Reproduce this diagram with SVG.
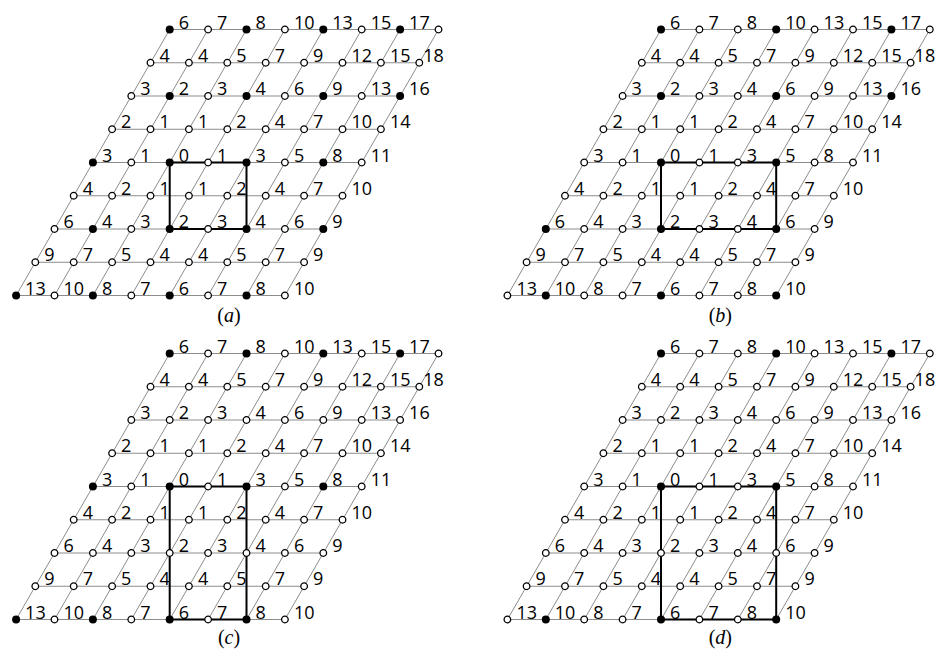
<svg xmlns="http://www.w3.org/2000/svg" xmlns:xlink="http://www.w3.org/1999/xlink" width="936" height="651" viewBox="0 0 936 651">
<style>
.grid{fill:none;stroke:#8c8c8c;stroke-width:1}
.box{fill:none;stroke:#000;stroke-width:2}
.k{fill:#000}
.o{fill:#fff;stroke:#000;stroke-width:1.3}
text{font-family:"Open Sans","Noto Sans","DejaVu Sans",sans-serif;font-size:18px;fill:#000}
.cap{font-family:"Liberation Serif","Times New Roman",serif;font-size:20px;text-anchor:middle;fill:#000}
</style>
<defs>
<path id="lattice" class="grid" d="M169.7 29.5H438.5M150.5 62.75H419.3M131.3 96H400.1M112.1 129.25H380.9M92.9 162.5H361.7M73.7 195.75H342.5M54.5 229H323.3M35.3 262.25H304.1M16.1 295.5H284.9M169.7 29.5L16.1 295.5M208.1 29.5L54.5 295.5M246.5 29.5L92.9 295.5M284.9 29.5L131.3 295.5M323.3 29.5L169.7 295.5M361.7 29.5L208.1 295.5M400.1 29.5L246.5 295.5M438.5 29.5L284.9 295.5"/>
</defs>

<!-- connectors -->
<g id="connectors">
<use xlink:href="#lattice" href="#lattice"/>
<use xlink:href="#lattice" href="#lattice" transform="translate(491.3,0)"/>
<use xlink:href="#lattice" href="#lattice" transform="translate(0,324)"/>
<use xlink:href="#lattice" href="#lattice" transform="translate(491.3,324)"/>
<path class="box" d="M169.7 162.5H246.5V229H169.7Z"/>
<path class="box" transform="translate(491.3,0)" d="M169.7 162.5H284.9V229H169.7Z"/>
<path class="box" transform="translate(0,324)" d="M169.7 162.5H246.5V295.5H169.7Z"/>
<path class="box" transform="translate(491.3,324)" d="M169.7 162.5H284.9V295.5H169.7Z"/>
</g>

<!-- panel a -->
<g id="panel-a">
<g id="a-r0c0" transform="translate(169.7,29.5)"><circle class="k" r="4"/><text x="9" y="-1">6</text></g>
<g id="a-r0c1" transform="translate(208.1,29.5)"><circle class="o" r="3.3"/><text x="9" y="-1">7</text></g>
<g id="a-r0c2" transform="translate(246.5,29.5)"><circle class="k" r="4"/><text x="9" y="-1">8</text></g>
<g id="a-r0c3" transform="translate(284.9,29.5)"><circle class="o" r="3.3"/><text x="9" y="-1">10</text></g>
<g id="a-r0c4" transform="translate(323.3,29.5)"><circle class="k" r="4"/><text x="9" y="-1">13</text></g>
<g id="a-r0c5" transform="translate(361.7,29.5)"><circle class="o" r="3.3"/><text x="9" y="-1">15</text></g>
<g id="a-r0c6" transform="translate(400.1,29.5)"><circle class="k" r="4"/><text x="9" y="-1">17</text></g>
<g id="a-r0c7" transform="translate(438.5,29.5)"><circle class="o" r="3.3"/></g>
<g id="a-r1c0" transform="translate(150.5,62.75)"><circle class="o" r="3.3"/><text x="9" y="-1">4</text></g>
<g id="a-r1c1" transform="translate(188.9,62.75)"><circle class="o" r="3.3"/><text x="9" y="-1">4</text></g>
<g id="a-r1c2" transform="translate(227.3,62.75)"><circle class="o" r="3.3"/><text x="9" y="-1">5</text></g>
<g id="a-r1c3" transform="translate(265.7,62.75)"><circle class="o" r="3.3"/><text x="9" y="-1">7</text></g>
<g id="a-r1c4" transform="translate(304.1,62.75)"><circle class="o" r="3.3"/><text x="9" y="-1">9</text></g>
<g id="a-r1c5" transform="translate(342.5,62.75)"><circle class="o" r="3.3"/><text x="9" y="-1">12</text></g>
<g id="a-r1c6" transform="translate(380.9,62.75)"><circle class="o" r="3.3"/><text x="9" y="-1">15</text></g>
<g id="a-r1c7" transform="translate(419.3,62.75)"><circle class="o" r="3.3"/><text x="4" y="-1">18</text></g>
<g id="a-r2c0" transform="translate(131.3,96)"><circle class="o" r="3.3"/><text x="9" y="-1">3</text></g>
<g id="a-r2c1" transform="translate(169.7,96)"><circle class="k" r="4"/><text x="9" y="-1">2</text></g>
<g id="a-r2c2" transform="translate(208.1,96)"><circle class="o" r="3.3"/><text x="9" y="-1">3</text></g>
<g id="a-r2c3" transform="translate(246.5,96)"><circle class="k" r="4"/><text x="9" y="-1">4</text></g>
<g id="a-r2c4" transform="translate(284.9,96)"><circle class="o" r="3.3"/><text x="9" y="-1">6</text></g>
<g id="a-r2c5" transform="translate(323.3,96)"><circle class="k" r="4"/><text x="9" y="-1">9</text></g>
<g id="a-r2c6" transform="translate(361.7,96)"><circle class="o" r="3.3"/><text x="9" y="-1">13</text></g>
<g id="a-r2c7" transform="translate(400.1,96)"><circle class="k" r="4"/><text x="9" y="-1">16</text></g>
<g id="a-r3c0" transform="translate(112.1,129.25)"><circle class="o" r="3.3"/><text x="9" y="-1">2</text></g>
<g id="a-r3c1" transform="translate(150.5,129.25)"><circle class="o" r="3.3"/><text x="9" y="-1">1</text></g>
<g id="a-r3c2" transform="translate(188.9,129.25)"><circle class="o" r="3.3"/><text x="9" y="-1">1</text></g>
<g id="a-r3c3" transform="translate(227.3,129.25)"><circle class="o" r="3.3"/><text x="9" y="-1">2</text></g>
<g id="a-r3c4" transform="translate(265.7,129.25)"><circle class="o" r="3.3"/><text x="9" y="-1">4</text></g>
<g id="a-r3c5" transform="translate(304.1,129.25)"><circle class="o" r="3.3"/><text x="9" y="-1">7</text></g>
<g id="a-r3c6" transform="translate(342.5,129.25)"><circle class="o" r="3.3"/><text x="9" y="-1">10</text></g>
<g id="a-r3c7" transform="translate(380.9,129.25)"><circle class="o" r="3.3"/><text x="9" y="-1">14</text></g>
<g id="a-r4c0" transform="translate(92.9,162.5)"><circle class="k" r="4"/><text x="9" y="-1">3</text></g>
<g id="a-r4c1" transform="translate(131.3,162.5)"><circle class="o" r="3.3"/><text x="9" y="-1">1</text></g>
<g id="a-r4c2" transform="translate(169.7,162.5)"><circle class="k" r="4"/><text x="9" y="-1">0</text></g>
<g id="a-r4c3" transform="translate(208.1,162.5)"><circle class="o" r="3.3"/><text x="9" y="-1">1</text></g>
<g id="a-r4c4" transform="translate(246.5,162.5)"><circle class="k" r="4"/><text x="9" y="-1">3</text></g>
<g id="a-r4c5" transform="translate(284.9,162.5)"><circle class="o" r="3.3"/><text x="9" y="-1">5</text></g>
<g id="a-r4c6" transform="translate(323.3,162.5)"><circle class="k" r="4"/><text x="9" y="-1">8</text></g>
<g id="a-r4c7" transform="translate(361.7,162.5)"><circle class="o" r="3.3"/><text x="9" y="-1">11</text></g>
<g id="a-r5c0" transform="translate(73.7,195.75)"><circle class="o" r="3.3"/><text x="9" y="-1">4</text></g>
<g id="a-r5c1" transform="translate(112.1,195.75)"><circle class="o" r="3.3"/><text x="9" y="-1">2</text></g>
<g id="a-r5c2" transform="translate(150.5,195.75)"><circle class="o" r="3.3"/><text x="9" y="-1">1</text></g>
<g id="a-r5c3" transform="translate(188.9,195.75)"><circle class="o" r="3.3"/><text x="9" y="-1">1</text></g>
<g id="a-r5c4" transform="translate(227.3,195.75)"><circle class="o" r="3.3"/><text x="9" y="-1">2</text></g>
<g id="a-r5c5" transform="translate(265.7,195.75)"><circle class="o" r="3.3"/><text x="9" y="-1">4</text></g>
<g id="a-r5c6" transform="translate(304.1,195.75)"><circle class="o" r="3.3"/><text x="9" y="-1">7</text></g>
<g id="a-r5c7" transform="translate(342.5,195.75)"><circle class="o" r="3.3"/><text x="9" y="-1">10</text></g>
<g id="a-r6c0" transform="translate(54.5,229)"><circle class="o" r="3.3"/><text x="9" y="-1">6</text></g>
<g id="a-r6c1" transform="translate(92.9,229)"><circle class="k" r="4"/><text x="9" y="-1">4</text></g>
<g id="a-r6c2" transform="translate(131.3,229)"><circle class="o" r="3.3"/><text x="9" y="-1">3</text></g>
<g id="a-r6c3" transform="translate(169.7,229)"><circle class="k" r="4"/><text x="9" y="-1">2</text></g>
<g id="a-r6c4" transform="translate(208.1,229)"><circle class="o" r="3.3"/><text x="9" y="-1">3</text></g>
<g id="a-r6c5" transform="translate(246.5,229)"><circle class="k" r="4"/><text x="9" y="-1">4</text></g>
<g id="a-r6c6" transform="translate(284.9,229)"><circle class="o" r="3.3"/><text x="9" y="-1">6</text></g>
<g id="a-r6c7" transform="translate(323.3,229)"><circle class="k" r="4"/><text x="9" y="-1">9</text></g>
<g id="a-r7c0" transform="translate(35.3,262.25)"><circle class="o" r="3.3"/><text x="9" y="-1">9</text></g>
<g id="a-r7c1" transform="translate(73.7,262.25)"><circle class="o" r="3.3"/><text x="9" y="-1">7</text></g>
<g id="a-r7c2" transform="translate(112.1,262.25)"><circle class="o" r="3.3"/><text x="9" y="-1">5</text></g>
<g id="a-r7c3" transform="translate(150.5,262.25)"><circle class="o" r="3.3"/><text x="9" y="-1">4</text></g>
<g id="a-r7c4" transform="translate(188.9,262.25)"><circle class="o" r="3.3"/><text x="9" y="-1">4</text></g>
<g id="a-r7c5" transform="translate(227.3,262.25)"><circle class="o" r="3.3"/><text x="9" y="-1">5</text></g>
<g id="a-r7c6" transform="translate(265.7,262.25)"><circle class="o" r="3.3"/><text x="9" y="-1">7</text></g>
<g id="a-r7c7" transform="translate(304.1,262.25)"><circle class="o" r="3.3"/><text x="9" y="-1">9</text></g>
<g id="a-r8c0" transform="translate(16.1,295.5)"><circle class="k" r="4"/><text x="9" y="-1">13</text></g>
<g id="a-r8c1" transform="translate(54.5,295.5)"><circle class="o" r="3.3"/><text x="9" y="-1">10</text></g>
<g id="a-r8c2" transform="translate(92.9,295.5)"><circle class="k" r="4"/><text x="9" y="-1">8</text></g>
<g id="a-r8c3" transform="translate(131.3,295.5)"><circle class="o" r="3.3"/><text x="9" y="-1">7</text></g>
<g id="a-r8c4" transform="translate(169.7,295.5)"><circle class="k" r="4"/><text x="9" y="-1">6</text></g>
<g id="a-r8c5" transform="translate(208.1,295.5)"><circle class="o" r="3.3"/><text x="9" y="-1">7</text></g>
<g id="a-r8c6" transform="translate(246.5,295.5)"><circle class="k" r="4"/><text x="9" y="-1">8</text></g>
<g id="a-r8c7" transform="translate(284.9,295.5)"><circle class="o" r="3.3"/><text x="9" y="-1">10</text></g>
<text class="cap" x="229" y="322">(<tspan font-style="italic">a</tspan>)</text>
</g>

<!-- panel b -->
<g id="panel-b" transform="translate(491.3,0)">
<g id="b-r0c0" transform="translate(169.7,29.5)"><circle class="k" r="4"/><text x="9" y="-1">6</text></g>
<g id="b-r0c1" transform="translate(208.1,29.5)"><circle class="o" r="3.3"/><text x="9" y="-1">7</text></g>
<g id="b-r0c2" transform="translate(246.5,29.5)"><circle class="o" r="3.3"/><text x="9" y="-1">8</text></g>
<g id="b-r0c3" transform="translate(284.9,29.5)"><circle class="k" r="4"/><text x="9" y="-1">10</text></g>
<g id="b-r0c4" transform="translate(323.3,29.5)"><circle class="o" r="3.3"/><text x="9" y="-1">13</text></g>
<g id="b-r0c5" transform="translate(361.7,29.5)"><circle class="o" r="3.3"/><text x="9" y="-1">15</text></g>
<g id="b-r0c6" transform="translate(400.1,29.5)"><circle class="k" r="4"/><text x="9" y="-1">17</text></g>
<g id="b-r0c7" transform="translate(438.5,29.5)"><circle class="o" r="3.3"/></g>
<g id="b-r1c0" transform="translate(150.5,62.75)"><circle class="o" r="3.3"/><text x="9" y="-1">4</text></g>
<g id="b-r1c1" transform="translate(188.9,62.75)"><circle class="o" r="3.3"/><text x="9" y="-1">4</text></g>
<g id="b-r1c2" transform="translate(227.3,62.75)"><circle class="o" r="3.3"/><text x="9" y="-1">5</text></g>
<g id="b-r1c3" transform="translate(265.7,62.75)"><circle class="o" r="3.3"/><text x="9" y="-1">7</text></g>
<g id="b-r1c4" transform="translate(304.1,62.75)"><circle class="o" r="3.3"/><text x="9" y="-1">9</text></g>
<g id="b-r1c5" transform="translate(342.5,62.75)"><circle class="o" r="3.3"/><text x="9" y="-1">12</text></g>
<g id="b-r1c6" transform="translate(380.9,62.75)"><circle class="o" r="3.3"/><text x="9" y="-1">15</text></g>
<g id="b-r1c7" transform="translate(419.3,62.75)"><circle class="o" r="3.3"/><text x="4" y="-1">18</text></g>
<g id="b-r2c0" transform="translate(131.3,96)"><circle class="o" r="3.3"/><text x="9" y="-1">3</text></g>
<g id="b-r2c1" transform="translate(169.7,96)"><circle class="k" r="4"/><text x="9" y="-1">2</text></g>
<g id="b-r2c2" transform="translate(208.1,96)"><circle class="o" r="3.3"/><text x="9" y="-1">3</text></g>
<g id="b-r2c3" transform="translate(246.5,96)"><circle class="o" r="3.3"/><text x="9" y="-1">4</text></g>
<g id="b-r2c4" transform="translate(284.9,96)"><circle class="k" r="4"/><text x="9" y="-1">6</text></g>
<g id="b-r2c5" transform="translate(323.3,96)"><circle class="o" r="3.3"/><text x="9" y="-1">9</text></g>
<g id="b-r2c6" transform="translate(361.7,96)"><circle class="o" r="3.3"/><text x="9" y="-1">13</text></g>
<g id="b-r2c7" transform="translate(400.1,96)"><circle class="k" r="4"/><text x="9" y="-1">16</text></g>
<g id="b-r3c0" transform="translate(112.1,129.25)"><circle class="o" r="3.3"/><text x="9" y="-1">2</text></g>
<g id="b-r3c1" transform="translate(150.5,129.25)"><circle class="o" r="3.3"/><text x="9" y="-1">1</text></g>
<g id="b-r3c2" transform="translate(188.9,129.25)"><circle class="o" r="3.3"/><text x="9" y="-1">1</text></g>
<g id="b-r3c3" transform="translate(227.3,129.25)"><circle class="o" r="3.3"/><text x="9" y="-1">2</text></g>
<g id="b-r3c4" transform="translate(265.7,129.25)"><circle class="o" r="3.3"/><text x="9" y="-1">4</text></g>
<g id="b-r3c5" transform="translate(304.1,129.25)"><circle class="o" r="3.3"/><text x="9" y="-1">7</text></g>
<g id="b-r3c6" transform="translate(342.5,129.25)"><circle class="o" r="3.3"/><text x="9" y="-1">10</text></g>
<g id="b-r3c7" transform="translate(380.9,129.25)"><circle class="o" r="3.3"/><text x="9" y="-1">14</text></g>
<g id="b-r4c0" transform="translate(92.9,162.5)"><circle class="o" r="3.3"/><text x="9" y="-1">3</text></g>
<g id="b-r4c1" transform="translate(131.3,162.5)"><circle class="o" r="3.3"/><text x="9" y="-1">1</text></g>
<g id="b-r4c2" transform="translate(169.7,162.5)"><circle class="k" r="4"/><text x="9" y="-1">0</text></g>
<g id="b-r4c3" transform="translate(208.1,162.5)"><circle class="o" r="3.3"/><text x="9" y="-1">1</text></g>
<g id="b-r4c4" transform="translate(246.5,162.5)"><circle class="o" r="3.3"/><text x="9" y="-1">3</text></g>
<g id="b-r4c5" transform="translate(284.9,162.5)"><circle class="k" r="4"/><text x="9" y="-1">5</text></g>
<g id="b-r4c6" transform="translate(323.3,162.5)"><circle class="o" r="3.3"/><text x="9" y="-1">8</text></g>
<g id="b-r4c7" transform="translate(361.7,162.5)"><circle class="o" r="3.3"/><text x="9" y="-1">11</text></g>
<g id="b-r5c0" transform="translate(73.7,195.75)"><circle class="o" r="3.3"/><text x="9" y="-1">4</text></g>
<g id="b-r5c1" transform="translate(112.1,195.75)"><circle class="o" r="3.3"/><text x="9" y="-1">2</text></g>
<g id="b-r5c2" transform="translate(150.5,195.75)"><circle class="o" r="3.3"/><text x="9" y="-1">1</text></g>
<g id="b-r5c3" transform="translate(188.9,195.75)"><circle class="o" r="3.3"/><text x="9" y="-1">1</text></g>
<g id="b-r5c4" transform="translate(227.3,195.75)"><circle class="o" r="3.3"/><text x="9" y="-1">2</text></g>
<g id="b-r5c5" transform="translate(265.7,195.75)"><circle class="o" r="3.3"/><text x="9" y="-1">4</text></g>
<g id="b-r5c6" transform="translate(304.1,195.75)"><circle class="o" r="3.3"/><text x="9" y="-1">7</text></g>
<g id="b-r5c7" transform="translate(342.5,195.75)"><circle class="o" r="3.3"/><text x="9" y="-1">10</text></g>
<g id="b-r6c0" transform="translate(54.5,229)"><circle class="k" r="4"/><text x="9" y="-1">6</text></g>
<g id="b-r6c1" transform="translate(92.9,229)"><circle class="o" r="3.3"/><text x="9" y="-1">4</text></g>
<g id="b-r6c2" transform="translate(131.3,229)"><circle class="o" r="3.3"/><text x="9" y="-1">3</text></g>
<g id="b-r6c3" transform="translate(169.7,229)"><circle class="k" r="4"/><text x="9" y="-1">2</text></g>
<g id="b-r6c4" transform="translate(208.1,229)"><circle class="o" r="3.3"/><text x="9" y="-1">3</text></g>
<g id="b-r6c5" transform="translate(246.5,229)"><circle class="o" r="3.3"/><text x="9" y="-1">4</text></g>
<g id="b-r6c6" transform="translate(284.9,229)"><circle class="k" r="4"/><text x="9" y="-1">6</text></g>
<g id="b-r6c7" transform="translate(323.3,229)"><circle class="o" r="3.3"/><text x="9" y="-1">9</text></g>
<g id="b-r7c0" transform="translate(35.3,262.25)"><circle class="o" r="3.3"/><text x="9" y="-1">9</text></g>
<g id="b-r7c1" transform="translate(73.7,262.25)"><circle class="o" r="3.3"/><text x="9" y="-1">7</text></g>
<g id="b-r7c2" transform="translate(112.1,262.25)"><circle class="o" r="3.3"/><text x="9" y="-1">5</text></g>
<g id="b-r7c3" transform="translate(150.5,262.25)"><circle class="o" r="3.3"/><text x="9" y="-1">4</text></g>
<g id="b-r7c4" transform="translate(188.9,262.25)"><circle class="o" r="3.3"/><text x="9" y="-1">4</text></g>
<g id="b-r7c5" transform="translate(227.3,262.25)"><circle class="o" r="3.3"/><text x="9" y="-1">5</text></g>
<g id="b-r7c6" transform="translate(265.7,262.25)"><circle class="o" r="3.3"/><text x="9" y="-1">7</text></g>
<g id="b-r7c7" transform="translate(304.1,262.25)"><circle class="o" r="3.3"/><text x="9" y="-1">9</text></g>
<g id="b-r8c0" transform="translate(16.1,295.5)"><circle class="o" r="3.3"/><text x="9" y="-1">13</text></g>
<g id="b-r8c1" transform="translate(54.5,295.5)"><circle class="k" r="4"/><text x="9" y="-1">10</text></g>
<g id="b-r8c2" transform="translate(92.9,295.5)"><circle class="o" r="3.3"/><text x="9" y="-1">8</text></g>
<g id="b-r8c3" transform="translate(131.3,295.5)"><circle class="o" r="3.3"/><text x="9" y="-1">7</text></g>
<g id="b-r8c4" transform="translate(169.7,295.5)"><circle class="k" r="4"/><text x="9" y="-1">6</text></g>
<g id="b-r8c5" transform="translate(208.1,295.5)"><circle class="o" r="3.3"/><text x="9" y="-1">7</text></g>
<g id="b-r8c6" transform="translate(246.5,295.5)"><circle class="o" r="3.3"/><text x="9" y="-1">8</text></g>
<g id="b-r8c7" transform="translate(284.9,295.5)"><circle class="k" r="4"/><text x="9" y="-1">10</text></g>
<text class="cap" x="229" y="322">(<tspan font-style="italic">b</tspan>)</text>
</g>

<!-- panel c -->
<g id="panel-c" transform="translate(0,324)">
<g id="c-r0c0" transform="translate(169.7,29.5)"><circle class="k" r="4"/><text x="9" y="-1">6</text></g>
<g id="c-r0c1" transform="translate(208.1,29.5)"><circle class="o" r="3.3"/><text x="9" y="-1">7</text></g>
<g id="c-r0c2" transform="translate(246.5,29.5)"><circle class="k" r="4"/><text x="9" y="-1">8</text></g>
<g id="c-r0c3" transform="translate(284.9,29.5)"><circle class="o" r="3.3"/><text x="9" y="-1">10</text></g>
<g id="c-r0c4" transform="translate(323.3,29.5)"><circle class="k" r="4"/><text x="9" y="-1">13</text></g>
<g id="c-r0c5" transform="translate(361.7,29.5)"><circle class="o" r="3.3"/><text x="9" y="-1">15</text></g>
<g id="c-r0c6" transform="translate(400.1,29.5)"><circle class="k" r="4"/><text x="9" y="-1">17</text></g>
<g id="c-r0c7" transform="translate(438.5,29.5)"><circle class="o" r="3.3"/></g>
<g id="c-r1c0" transform="translate(150.5,62.75)"><circle class="o" r="3.3"/><text x="9" y="-1">4</text></g>
<g id="c-r1c1" transform="translate(188.9,62.75)"><circle class="o" r="3.3"/><text x="9" y="-1">4</text></g>
<g id="c-r1c2" transform="translate(227.3,62.75)"><circle class="o" r="3.3"/><text x="9" y="-1">5</text></g>
<g id="c-r1c3" transform="translate(265.7,62.75)"><circle class="o" r="3.3"/><text x="9" y="-1">7</text></g>
<g id="c-r1c4" transform="translate(304.1,62.75)"><circle class="o" r="3.3"/><text x="9" y="-1">9</text></g>
<g id="c-r1c5" transform="translate(342.5,62.75)"><circle class="o" r="3.3"/><text x="9" y="-1">12</text></g>
<g id="c-r1c6" transform="translate(380.9,62.75)"><circle class="o" r="3.3"/><text x="9" y="-1">15</text></g>
<g id="c-r1c7" transform="translate(419.3,62.75)"><circle class="o" r="3.3"/><text x="4" y="-1">18</text></g>
<g id="c-r2c0" transform="translate(131.3,96)"><circle class="o" r="3.3"/><text x="9" y="-1">3</text></g>
<g id="c-r2c1" transform="translate(169.7,96)"><circle class="o" r="3.3"/><text x="9" y="-1">2</text></g>
<g id="c-r2c2" transform="translate(208.1,96)"><circle class="o" r="3.3"/><text x="9" y="-1">3</text></g>
<g id="c-r2c3" transform="translate(246.5,96)"><circle class="o" r="3.3"/><text x="9" y="-1">4</text></g>
<g id="c-r2c4" transform="translate(284.9,96)"><circle class="o" r="3.3"/><text x="9" y="-1">6</text></g>
<g id="c-r2c5" transform="translate(323.3,96)"><circle class="o" r="3.3"/><text x="9" y="-1">9</text></g>
<g id="c-r2c6" transform="translate(361.7,96)"><circle class="o" r="3.3"/><text x="9" y="-1">13</text></g>
<g id="c-r2c7" transform="translate(400.1,96)"><circle class="o" r="3.3"/><text x="9" y="-1">16</text></g>
<g id="c-r3c0" transform="translate(112.1,129.25)"><circle class="o" r="3.3"/><text x="9" y="-1">2</text></g>
<g id="c-r3c1" transform="translate(150.5,129.25)"><circle class="o" r="3.3"/><text x="9" y="-1">1</text></g>
<g id="c-r3c2" transform="translate(188.9,129.25)"><circle class="o" r="3.3"/><text x="9" y="-1">1</text></g>
<g id="c-r3c3" transform="translate(227.3,129.25)"><circle class="o" r="3.3"/><text x="9" y="-1">2</text></g>
<g id="c-r3c4" transform="translate(265.7,129.25)"><circle class="o" r="3.3"/><text x="9" y="-1">4</text></g>
<g id="c-r3c5" transform="translate(304.1,129.25)"><circle class="o" r="3.3"/><text x="9" y="-1">7</text></g>
<g id="c-r3c6" transform="translate(342.5,129.25)"><circle class="o" r="3.3"/><text x="9" y="-1">10</text></g>
<g id="c-r3c7" transform="translate(380.9,129.25)"><circle class="o" r="3.3"/><text x="9" y="-1">14</text></g>
<g id="c-r4c0" transform="translate(92.9,162.5)"><circle class="k" r="4"/><text x="9" y="-1">3</text></g>
<g id="c-r4c1" transform="translate(131.3,162.5)"><circle class="o" r="3.3"/><text x="9" y="-1">1</text></g>
<g id="c-r4c2" transform="translate(169.7,162.5)"><circle class="k" r="4"/><text x="9" y="-1">0</text></g>
<g id="c-r4c3" transform="translate(208.1,162.5)"><circle class="o" r="3.3"/><text x="9" y="-1">1</text></g>
<g id="c-r4c4" transform="translate(246.5,162.5)"><circle class="k" r="4"/><text x="9" y="-1">3</text></g>
<g id="c-r4c5" transform="translate(284.9,162.5)"><circle class="o" r="3.3"/><text x="9" y="-1">5</text></g>
<g id="c-r4c6" transform="translate(323.3,162.5)"><circle class="k" r="4"/><text x="9" y="-1">8</text></g>
<g id="c-r4c7" transform="translate(361.7,162.5)"><circle class="o" r="3.3"/><text x="9" y="-1">11</text></g>
<g id="c-r5c0" transform="translate(73.7,195.75)"><circle class="o" r="3.3"/><text x="9" y="-1">4</text></g>
<g id="c-r5c1" transform="translate(112.1,195.75)"><circle class="o" r="3.3"/><text x="9" y="-1">2</text></g>
<g id="c-r5c2" transform="translate(150.5,195.75)"><circle class="o" r="3.3"/><text x="9" y="-1">1</text></g>
<g id="c-r5c3" transform="translate(188.9,195.75)"><circle class="o" r="3.3"/><text x="9" y="-1">1</text></g>
<g id="c-r5c4" transform="translate(227.3,195.75)"><circle class="o" r="3.3"/><text x="9" y="-1">2</text></g>
<g id="c-r5c5" transform="translate(265.7,195.75)"><circle class="o" r="3.3"/><text x="9" y="-1">4</text></g>
<g id="c-r5c6" transform="translate(304.1,195.75)"><circle class="o" r="3.3"/><text x="9" y="-1">7</text></g>
<g id="c-r5c7" transform="translate(342.5,195.75)"><circle class="o" r="3.3"/><text x="9" y="-1">10</text></g>
<g id="c-r6c0" transform="translate(54.5,229)"><circle class="o" r="3.3"/><text x="9" y="-1">6</text></g>
<g id="c-r6c1" transform="translate(92.9,229)"><circle class="o" r="3.3"/><text x="9" y="-1">4</text></g>
<g id="c-r6c2" transform="translate(131.3,229)"><circle class="o" r="3.3"/><text x="9" y="-1">3</text></g>
<g id="c-r6c3" transform="translate(169.7,229)"><circle class="o" r="3.3"/><text x="9" y="-1">2</text></g>
<g id="c-r6c4" transform="translate(208.1,229)"><circle class="o" r="3.3"/><text x="9" y="-1">3</text></g>
<g id="c-r6c5" transform="translate(246.5,229)"><circle class="o" r="3.3"/><text x="9" y="-1">4</text></g>
<g id="c-r6c6" transform="translate(284.9,229)"><circle class="o" r="3.3"/><text x="9" y="-1">6</text></g>
<g id="c-r6c7" transform="translate(323.3,229)"><circle class="o" r="3.3"/><text x="9" y="-1">9</text></g>
<g id="c-r7c0" transform="translate(35.3,262.25)"><circle class="o" r="3.3"/><text x="9" y="-1">9</text></g>
<g id="c-r7c1" transform="translate(73.7,262.25)"><circle class="o" r="3.3"/><text x="9" y="-1">7</text></g>
<g id="c-r7c2" transform="translate(112.1,262.25)"><circle class="o" r="3.3"/><text x="9" y="-1">5</text></g>
<g id="c-r7c3" transform="translate(150.5,262.25)"><circle class="o" r="3.3"/><text x="9" y="-1">4</text></g>
<g id="c-r7c4" transform="translate(188.9,262.25)"><circle class="o" r="3.3"/><text x="9" y="-1">4</text></g>
<g id="c-r7c5" transform="translate(227.3,262.25)"><circle class="o" r="3.3"/><text x="9" y="-1">5</text></g>
<g id="c-r7c6" transform="translate(265.7,262.25)"><circle class="o" r="3.3"/><text x="9" y="-1">7</text></g>
<g id="c-r7c7" transform="translate(304.1,262.25)"><circle class="o" r="3.3"/><text x="9" y="-1">9</text></g>
<g id="c-r8c0" transform="translate(16.1,295.5)"><circle class="k" r="4"/><text x="9" y="-1">13</text></g>
<g id="c-r8c1" transform="translate(54.5,295.5)"><circle class="o" r="3.3"/><text x="9" y="-1">10</text></g>
<g id="c-r8c2" transform="translate(92.9,295.5)"><circle class="k" r="4"/><text x="9" y="-1">8</text></g>
<g id="c-r8c3" transform="translate(131.3,295.5)"><circle class="o" r="3.3"/><text x="9" y="-1">7</text></g>
<g id="c-r8c4" transform="translate(169.7,295.5)"><circle class="k" r="4"/><text x="9" y="-1">6</text></g>
<g id="c-r8c5" transform="translate(208.1,295.5)"><circle class="o" r="3.3"/><text x="9" y="-1">7</text></g>
<g id="c-r8c6" transform="translate(246.5,295.5)"><circle class="k" r="4"/><text x="9" y="-1">8</text></g>
<g id="c-r8c7" transform="translate(284.9,295.5)"><circle class="o" r="3.3"/><text x="9" y="-1">10</text></g>
<text class="cap" x="229" y="320">(<tspan font-style="italic">c</tspan>)</text>
</g>

<!-- panel d -->
<g id="panel-d" transform="translate(491.3,324)">
<g id="d-r0c0" transform="translate(169.7,29.5)"><circle class="k" r="4"/><text x="9" y="-1">6</text></g>
<g id="d-r0c1" transform="translate(208.1,29.5)"><circle class="o" r="3.3"/><text x="9" y="-1">7</text></g>
<g id="d-r0c2" transform="translate(246.5,29.5)"><circle class="o" r="3.3"/><text x="9" y="-1">8</text></g>
<g id="d-r0c3" transform="translate(284.9,29.5)"><circle class="k" r="4"/><text x="9" y="-1">10</text></g>
<g id="d-r0c4" transform="translate(323.3,29.5)"><circle class="o" r="3.3"/><text x="9" y="-1">13</text></g>
<g id="d-r0c5" transform="translate(361.7,29.5)"><circle class="o" r="3.3"/><text x="9" y="-1">15</text></g>
<g id="d-r0c6" transform="translate(400.1,29.5)"><circle class="k" r="4"/><text x="9" y="-1">17</text></g>
<g id="d-r0c7" transform="translate(438.5,29.5)"><circle class="o" r="3.3"/></g>
<g id="d-r1c0" transform="translate(150.5,62.75)"><circle class="o" r="3.3"/><text x="9" y="-1">4</text></g>
<g id="d-r1c1" transform="translate(188.9,62.75)"><circle class="o" r="3.3"/><text x="9" y="-1">4</text></g>
<g id="d-r1c2" transform="translate(227.3,62.75)"><circle class="o" r="3.3"/><text x="9" y="-1">5</text></g>
<g id="d-r1c3" transform="translate(265.7,62.75)"><circle class="o" r="3.3"/><text x="9" y="-1">7</text></g>
<g id="d-r1c4" transform="translate(304.1,62.75)"><circle class="o" r="3.3"/><text x="9" y="-1">9</text></g>
<g id="d-r1c5" transform="translate(342.5,62.75)"><circle class="o" r="3.3"/><text x="9" y="-1">12</text></g>
<g id="d-r1c6" transform="translate(380.9,62.75)"><circle class="o" r="3.3"/><text x="9" y="-1">15</text></g>
<g id="d-r1c7" transform="translate(419.3,62.75)"><circle class="o" r="3.3"/><text x="4" y="-1">18</text></g>
<g id="d-r2c0" transform="translate(131.3,96)"><circle class="o" r="3.3"/><text x="9" y="-1">3</text></g>
<g id="d-r2c1" transform="translate(169.7,96)"><circle class="o" r="3.3"/><text x="9" y="-1">2</text></g>
<g id="d-r2c2" transform="translate(208.1,96)"><circle class="o" r="3.3"/><text x="9" y="-1">3</text></g>
<g id="d-r2c3" transform="translate(246.5,96)"><circle class="o" r="3.3"/><text x="9" y="-1">4</text></g>
<g id="d-r2c4" transform="translate(284.9,96)"><circle class="o" r="3.3"/><text x="9" y="-1">6</text></g>
<g id="d-r2c5" transform="translate(323.3,96)"><circle class="o" r="3.3"/><text x="9" y="-1">9</text></g>
<g id="d-r2c6" transform="translate(361.7,96)"><circle class="o" r="3.3"/><text x="9" y="-1">13</text></g>
<g id="d-r2c7" transform="translate(400.1,96)"><circle class="o" r="3.3"/><text x="9" y="-1">16</text></g>
<g id="d-r3c0" transform="translate(112.1,129.25)"><circle class="o" r="3.3"/><text x="9" y="-1">2</text></g>
<g id="d-r3c1" transform="translate(150.5,129.25)"><circle class="o" r="3.3"/><text x="9" y="-1">1</text></g>
<g id="d-r3c2" transform="translate(188.9,129.25)"><circle class="o" r="3.3"/><text x="9" y="-1">1</text></g>
<g id="d-r3c3" transform="translate(227.3,129.25)"><circle class="o" r="3.3"/><text x="9" y="-1">2</text></g>
<g id="d-r3c4" transform="translate(265.7,129.25)"><circle class="o" r="3.3"/><text x="9" y="-1">4</text></g>
<g id="d-r3c5" transform="translate(304.1,129.25)"><circle class="o" r="3.3"/><text x="9" y="-1">7</text></g>
<g id="d-r3c6" transform="translate(342.5,129.25)"><circle class="o" r="3.3"/><text x="9" y="-1">10</text></g>
<g id="d-r3c7" transform="translate(380.9,129.25)"><circle class="o" r="3.3"/><text x="9" y="-1">14</text></g>
<g id="d-r4c0" transform="translate(92.9,162.5)"><circle class="o" r="3.3"/><text x="9" y="-1">3</text></g>
<g id="d-r4c1" transform="translate(131.3,162.5)"><circle class="o" r="3.3"/><text x="9" y="-1">1</text></g>
<g id="d-r4c2" transform="translate(169.7,162.5)"><circle class="k" r="4"/><text x="9" y="-1">0</text></g>
<g id="d-r4c3" transform="translate(208.1,162.5)"><circle class="o" r="3.3"/><text x="9" y="-1">1</text></g>
<g id="d-r4c4" transform="translate(246.5,162.5)"><circle class="o" r="3.3"/><text x="9" y="-1">3</text></g>
<g id="d-r4c5" transform="translate(284.9,162.5)"><circle class="k" r="4"/><text x="9" y="-1">5</text></g>
<g id="d-r4c6" transform="translate(323.3,162.5)"><circle class="o" r="3.3"/><text x="9" y="-1">8</text></g>
<g id="d-r4c7" transform="translate(361.7,162.5)"><circle class="o" r="3.3"/><text x="9" y="-1">11</text></g>
<g id="d-r5c0" transform="translate(73.7,195.75)"><circle class="o" r="3.3"/><text x="9" y="-1">4</text></g>
<g id="d-r5c1" transform="translate(112.1,195.75)"><circle class="o" r="3.3"/><text x="9" y="-1">2</text></g>
<g id="d-r5c2" transform="translate(150.5,195.75)"><circle class="o" r="3.3"/><text x="9" y="-1">1</text></g>
<g id="d-r5c3" transform="translate(188.9,195.75)"><circle class="o" r="3.3"/><text x="9" y="-1">1</text></g>
<g id="d-r5c4" transform="translate(227.3,195.75)"><circle class="o" r="3.3"/><text x="9" y="-1">2</text></g>
<g id="d-r5c5" transform="translate(265.7,195.75)"><circle class="o" r="3.3"/><text x="9" y="-1">4</text></g>
<g id="d-r5c6" transform="translate(304.1,195.75)"><circle class="o" r="3.3"/><text x="9" y="-1">7</text></g>
<g id="d-r5c7" transform="translate(342.5,195.75)"><circle class="o" r="3.3"/><text x="9" y="-1">10</text></g>
<g id="d-r6c0" transform="translate(54.5,229)"><circle class="o" r="3.3"/><text x="9" y="-1">6</text></g>
<g id="d-r6c1" transform="translate(92.9,229)"><circle class="o" r="3.3"/><text x="9" y="-1">4</text></g>
<g id="d-r6c2" transform="translate(131.3,229)"><circle class="o" r="3.3"/><text x="9" y="-1">3</text></g>
<g id="d-r6c3" transform="translate(169.7,229)"><circle class="o" r="3.3"/><text x="9" y="-1">2</text></g>
<g id="d-r6c4" transform="translate(208.1,229)"><circle class="o" r="3.3"/><text x="9" y="-1">3</text></g>
<g id="d-r6c5" transform="translate(246.5,229)"><circle class="o" r="3.3"/><text x="9" y="-1">4</text></g>
<g id="d-r6c6" transform="translate(284.9,229)"><circle class="o" r="3.3"/><text x="9" y="-1">6</text></g>
<g id="d-r6c7" transform="translate(323.3,229)"><circle class="o" r="3.3"/><text x="9" y="-1">9</text></g>
<g id="d-r7c0" transform="translate(35.3,262.25)"><circle class="o" r="3.3"/><text x="9" y="-1">9</text></g>
<g id="d-r7c1" transform="translate(73.7,262.25)"><circle class="o" r="3.3"/><text x="9" y="-1">7</text></g>
<g id="d-r7c2" transform="translate(112.1,262.25)"><circle class="o" r="3.3"/><text x="9" y="-1">5</text></g>
<g id="d-r7c3" transform="translate(150.5,262.25)"><circle class="o" r="3.3"/><text x="9" y="-1">4</text></g>
<g id="d-r7c4" transform="translate(188.9,262.25)"><circle class="o" r="3.3"/><text x="9" y="-1">4</text></g>
<g id="d-r7c5" transform="translate(227.3,262.25)"><circle class="o" r="3.3"/><text x="9" y="-1">5</text></g>
<g id="d-r7c6" transform="translate(265.7,262.25)"><circle class="o" r="3.3"/><text x="9" y="-1">7</text></g>
<g id="d-r7c7" transform="translate(304.1,262.25)"><circle class="o" r="3.3"/><text x="9" y="-1">9</text></g>
<g id="d-r8c0" transform="translate(16.1,295.5)"><circle class="o" r="3.3"/><text x="9" y="-1">13</text></g>
<g id="d-r8c1" transform="translate(54.5,295.5)"><circle class="k" r="4"/><text x="9" y="-1">10</text></g>
<g id="d-r8c2" transform="translate(92.9,295.5)"><circle class="o" r="3.3"/><text x="9" y="-1">8</text></g>
<g id="d-r8c3" transform="translate(131.3,295.5)"><circle class="o" r="3.3"/><text x="9" y="-1">7</text></g>
<g id="d-r8c4" transform="translate(169.7,295.5)"><circle class="k" r="4"/><text x="9" y="-1">6</text></g>
<g id="d-r8c5" transform="translate(208.1,295.5)"><circle class="o" r="3.3"/><text x="9" y="-1">7</text></g>
<g id="d-r8c6" transform="translate(246.5,295.5)"><circle class="o" r="3.3"/><text x="9" y="-1">8</text></g>
<g id="d-r8c7" transform="translate(284.9,295.5)"><circle class="k" r="4"/><text x="9" y="-1">10</text></g>
<text class="cap" x="229" y="320">(<tspan font-style="italic">d</tspan>)</text>
</g>
</svg>
